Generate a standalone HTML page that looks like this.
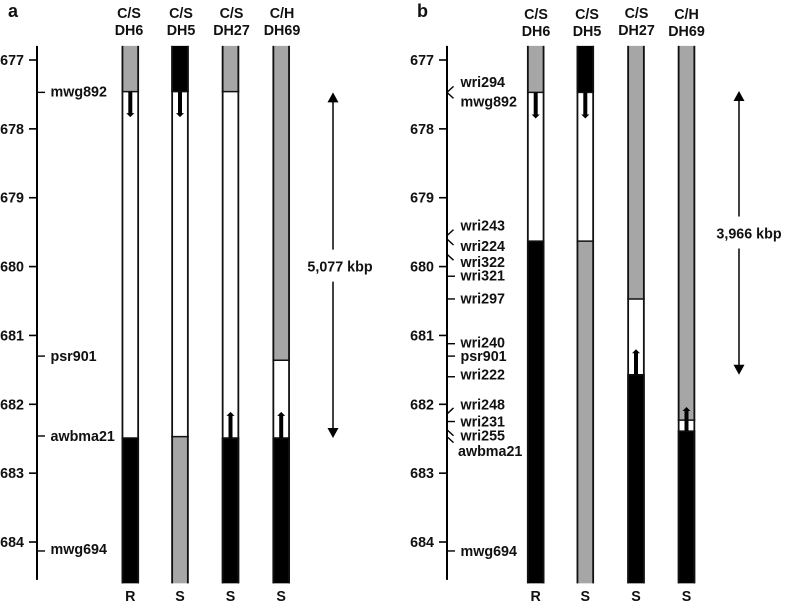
<!DOCTYPE html>
<html>
<head>
<meta charset="utf-8">
<style>
html,body{margin:0;padding:0;background:#fff;}
svg{display:block;}
text{font-family:"Liberation Sans",Arial,sans-serif;font-weight:bold;font-size:14.3px;fill:#111;}
</style>
</head>
<body>
<svg id="chart" width="798" height="607" viewBox="0 0 798 607" xmlns="http://www.w3.org/2000/svg">
<text x="8" y="17" style="font-size:18px">a</text>
<text x="417" y="17" style="font-size:18px">b</text>
</svg>
<script>
// Shared axis values (genetic map position)
const mapTicks = [677, 678, 679, 680, 681, 682, 683, 684];
const barStart = 676.795;
const barEnd = 684.6;
const axisEnd = 684.55;

// Panel a
const aMarkerNames = ['mwg892', 'psr901', 'awbma21', 'mwg694'];
const aMarkerPos = [677.47, 681.3, 682.46, 684.13];
const aMarkerSlant = [0, 0, 0, 0];
const aMarkerLabelPos = [677.46, 681.3, 682.46, 684.1];
const aLines = ['DH6', 'DH5', 'DH27', 'DH69'];
const aCrosses = ['C/S', 'C/S', 'C/S', 'C/H'];
const aPhenotypes = ['R', 'S', 'S', 'S'];
const aSegBreaks = [
  [677.46, 682.49],
  [677.46, 682.47],
  [677.46, 682.49],
  [681.36, 682.49]
];
const aSegTypes = [
  ['gray', 'white', 'black'],
  ['black', 'white', 'gray'],
  ['gray', 'white', 'black'],
  ['gray', 'white', 'black']
];
const aArrows = [[677.46, 677.83], [677.46, 677.83], [682.49, 682.11], [682.49, 682.11]];
const aSpan = [677.47, 682.49];
const aSpanLabel = '5,077 kbp';
const aSpanLabelPos = 680.0;

// Panel b
const bMarkerNames = ['wri294', 'mwg892', 'wri243', 'wri224', 'wri322', 'wri321', 'wri297', 'wri240', 'psr901', 'wri222', 'wri248', 'wri231', 'wri255', 'awbma21', 'mwg694'];
const bMarkerPos = [677.47, 677.47, 679.55, 679.6, 679.82, 680.14, 680.47, 681.12, 681.3, 681.6, 682.14, 682.25, 682.37, 682.47, 684.13];
const bMarkerSlant = [-1, 1, -1, 1, 1, 0, 0, 0, 0, 0, -1, 0, 1, 1, 0];
const bMarkerLabelPos = [677.32, 677.6, 679.4, 679.7, 679.93, 680.13, 680.46, 681.1, 681.3, 681.57, 682.0, 682.25, 682.45, 682.68, 684.13];
const bLines = ['DH6', 'DH5', 'DH27', 'DH69'];
const bCrosses = ['C/S', 'C/S', 'C/S', 'C/H'];
const bPhenotypes = ['R', 'S', 'S', 'S'];
const bSegBreaks = [
  [677.47, 679.63],
  [677.47, 679.63],
  [680.47, 681.57],
  [682.23, 682.39]
];
const bSegTypes = [
  ['gray', 'white', 'black'],
  ['black', 'white', 'gray'],
  ['gray', 'white', 'black'],
  ['gray', 'white', 'black']
];
const bArrows = [[677.47, 677.85], [677.47, 677.85], [681.57, 681.2], [682.39, 682.04]];
const bSpan = [677.45, 681.57];
const bSpanLabel = '3,966 kbp';
const bSpanLabelPos = 679.52;

const y = v => 60 + (v - 677) * 68.86;
const fills = {gray: '#a6a6a6', white: '#ffffff', black: '#000000'};
const NS = 'http://www.w3.org/2000/svg';
const svg = document.getElementById('chart');

function mk(tag, attrs, txt) {
  const el = document.createElementNS(NS, tag);
  for (const k in attrs) el.setAttribute(k, attrs[k]);
  if (txt !== undefined) el.textContent = txt;
  svg.appendChild(el);
  return el;
}

function drawPanel(p) {
  const axis = mk('line', {x1: p.axisX, x2: p.axisX, y1: y(barStart), y2: y(axisEnd), stroke: '#000', 'stroke-width': 2});
  
  

  mapTicks.forEach(t => {
    const tick = mk('line', {x1: p.axisX - 8, x2: p.axisX, y1: y(t), y2: y(t), stroke: '#000', 'stroke-width': 1.6});
    
    
    const lab = mk('text', {x: p.axisX - 13, y: y(t) + 5, 'text-anchor': 'end'}, String(t));
    
    
  });

  p.names.forEach((name, i) => {
    const my = y(p.pos[i]);
    const s = p.slant[i];
    const mark = mk('line', {x1: p.axisX, x2: p.axisX + (s ? 6.5 : 8), y1: my, y2: my + s * 6, stroke: '#000', 'stroke-width': 1.4});
    
    
    const lx = name === 'awbma21' && p.id === 'panel-b' ? p.axisX + 11 : p.axisX + 13.5;
    const lab = mk('text', {x: lx, y: y(p.labelPos[i]) + 5}, name);
    
    
  });

  p.centers.forEach((cx, i) => {
    const edges = [barStart, ...p.breaks[i], barEnd];
    p.types[i].forEach((type, j) => {
      const seg = mk('rect', {x: cx - 8.75, width: 17.5, y: y(edges[j]), height: y(edges[j + 1]) - y(edges[j]), fill: fills[type]});
      
      
    });
    p.breaks[i].forEach(b => {
      const sep = mk('line', {x1: cx - 8.75, x2: cx + 8.75, y1: y(b), y2: y(b), stroke: '#111', 'stroke-width': 1.5});
      
      
    });
    [-7.85, 7.85].forEach(dx => {
      const side = mk('line', {x1: cx + dx, x2: cx + dx, y1: y(barStart), y2: y(barEnd), stroke: '#111', 'stroke-width': 1.8});
      
      
    });

    const ar = p.arrows[i];
    if (ar) {
      const y0 = y(ar[0]);
      const y1 = y(ar[1]);
      const dir = y1 > y0 ? 1 : -1;
      const shaft = mk('line', {x1: cx, x2: cx, y1: y0, y2: y1 - dir * 2, stroke: '#000', 'stroke-width': 4});
      
      
      const head = mk('polygon', {points: `${cx - 4},${y1 - dir * 4} ${cx + 4},${y1 - dir * 4} ${cx},${y1}`, fill: '#000'});
      
      
    }

    const c1 = mk('text', {x: p.headCenters[i], y: p.headY[i], 'text-anchor': 'middle'}, p.crosses[i]);
    
    
    const c2 = mk('text', {x: p.headCenters[i], y: p.headY[i] + 17, 'text-anchor': 'middle'}, p.lines[i]);
    
    
    const ph = mk('text', {x: cx, y: 601, 'text-anchor': 'middle'}, p.phen[i]);
    
    
  });

  const ly = y(p.spanLabelPos);
  const top = y(p.span[0]);
  const bot = y(p.span[1]);
  const sTop = mk('line', {x1: p.spanX, x2: p.spanX, y1: top + 8, y2: ly - 17, stroke: '#000', 'stroke-width': 1.5});
  
  
  const sBot = mk('line', {x1: p.spanX, x2: p.spanX, y1: ly + 15, y2: bot - 8, stroke: '#000', 'stroke-width': 1.5});
  
  
  const hTop = mk('polygon', {points: `${p.spanX - 5.5},${top + 10} ${p.spanX + 5.5},${top + 10} ${p.spanX},${top}`, fill: '#000'});
  
  
  const hBot = mk('polygon', {points: `${p.spanX - 5.5},${bot - 10} ${p.spanX + 5.5},${bot - 10} ${p.spanX},${bot}`, fill: '#000'});
  
  
  const sl = mk('text', {x: p.spanLabelX, y: ly + 5, 'text-anchor': 'middle'}, p.spanLabel);
  
  
}

drawPanel({
  id: 'panel-a', axisX: 37, centers: [130.3, 180, 230.5, 281.2], headCenters: [129, 181, 231.5, 282], headY: [18, 18, 18, 18],
  names: aMarkerNames, pos: aMarkerPos, slant: aMarkerSlant, labelPos: aMarkerLabelPos,
  lines: aLines, crosses: aCrosses, phen: aPhenotypes, breaks: aSegBreaks, types: aSegTypes, arrows: aArrows,
  span: aSpan, spanLabel: aSpanLabel, spanLabelPos: aSpanLabelPos, spanX: 333, spanLabelX: 340
});
drawPanel({
  id: 'panel-b', axisX: 447, centers: [535.7, 585.3, 636, 686.5], headCenters: [536, 587, 636.5, 686.5], headY: [19, 19, 18, 19],
  names: bMarkerNames, pos: bMarkerPos, slant: bMarkerSlant, labelPos: bMarkerLabelPos,
  lines: bLines, crosses: bCrosses, phen: bPhenotypes, breaks: bSegBreaks, types: bSegTypes, arrows: bArrows,
  span: bSpan, spanLabel: bSpanLabel, spanLabelPos: bSpanLabelPos, spanX: 739, spanLabelX: 749
});
</script>
</body>
</html>
